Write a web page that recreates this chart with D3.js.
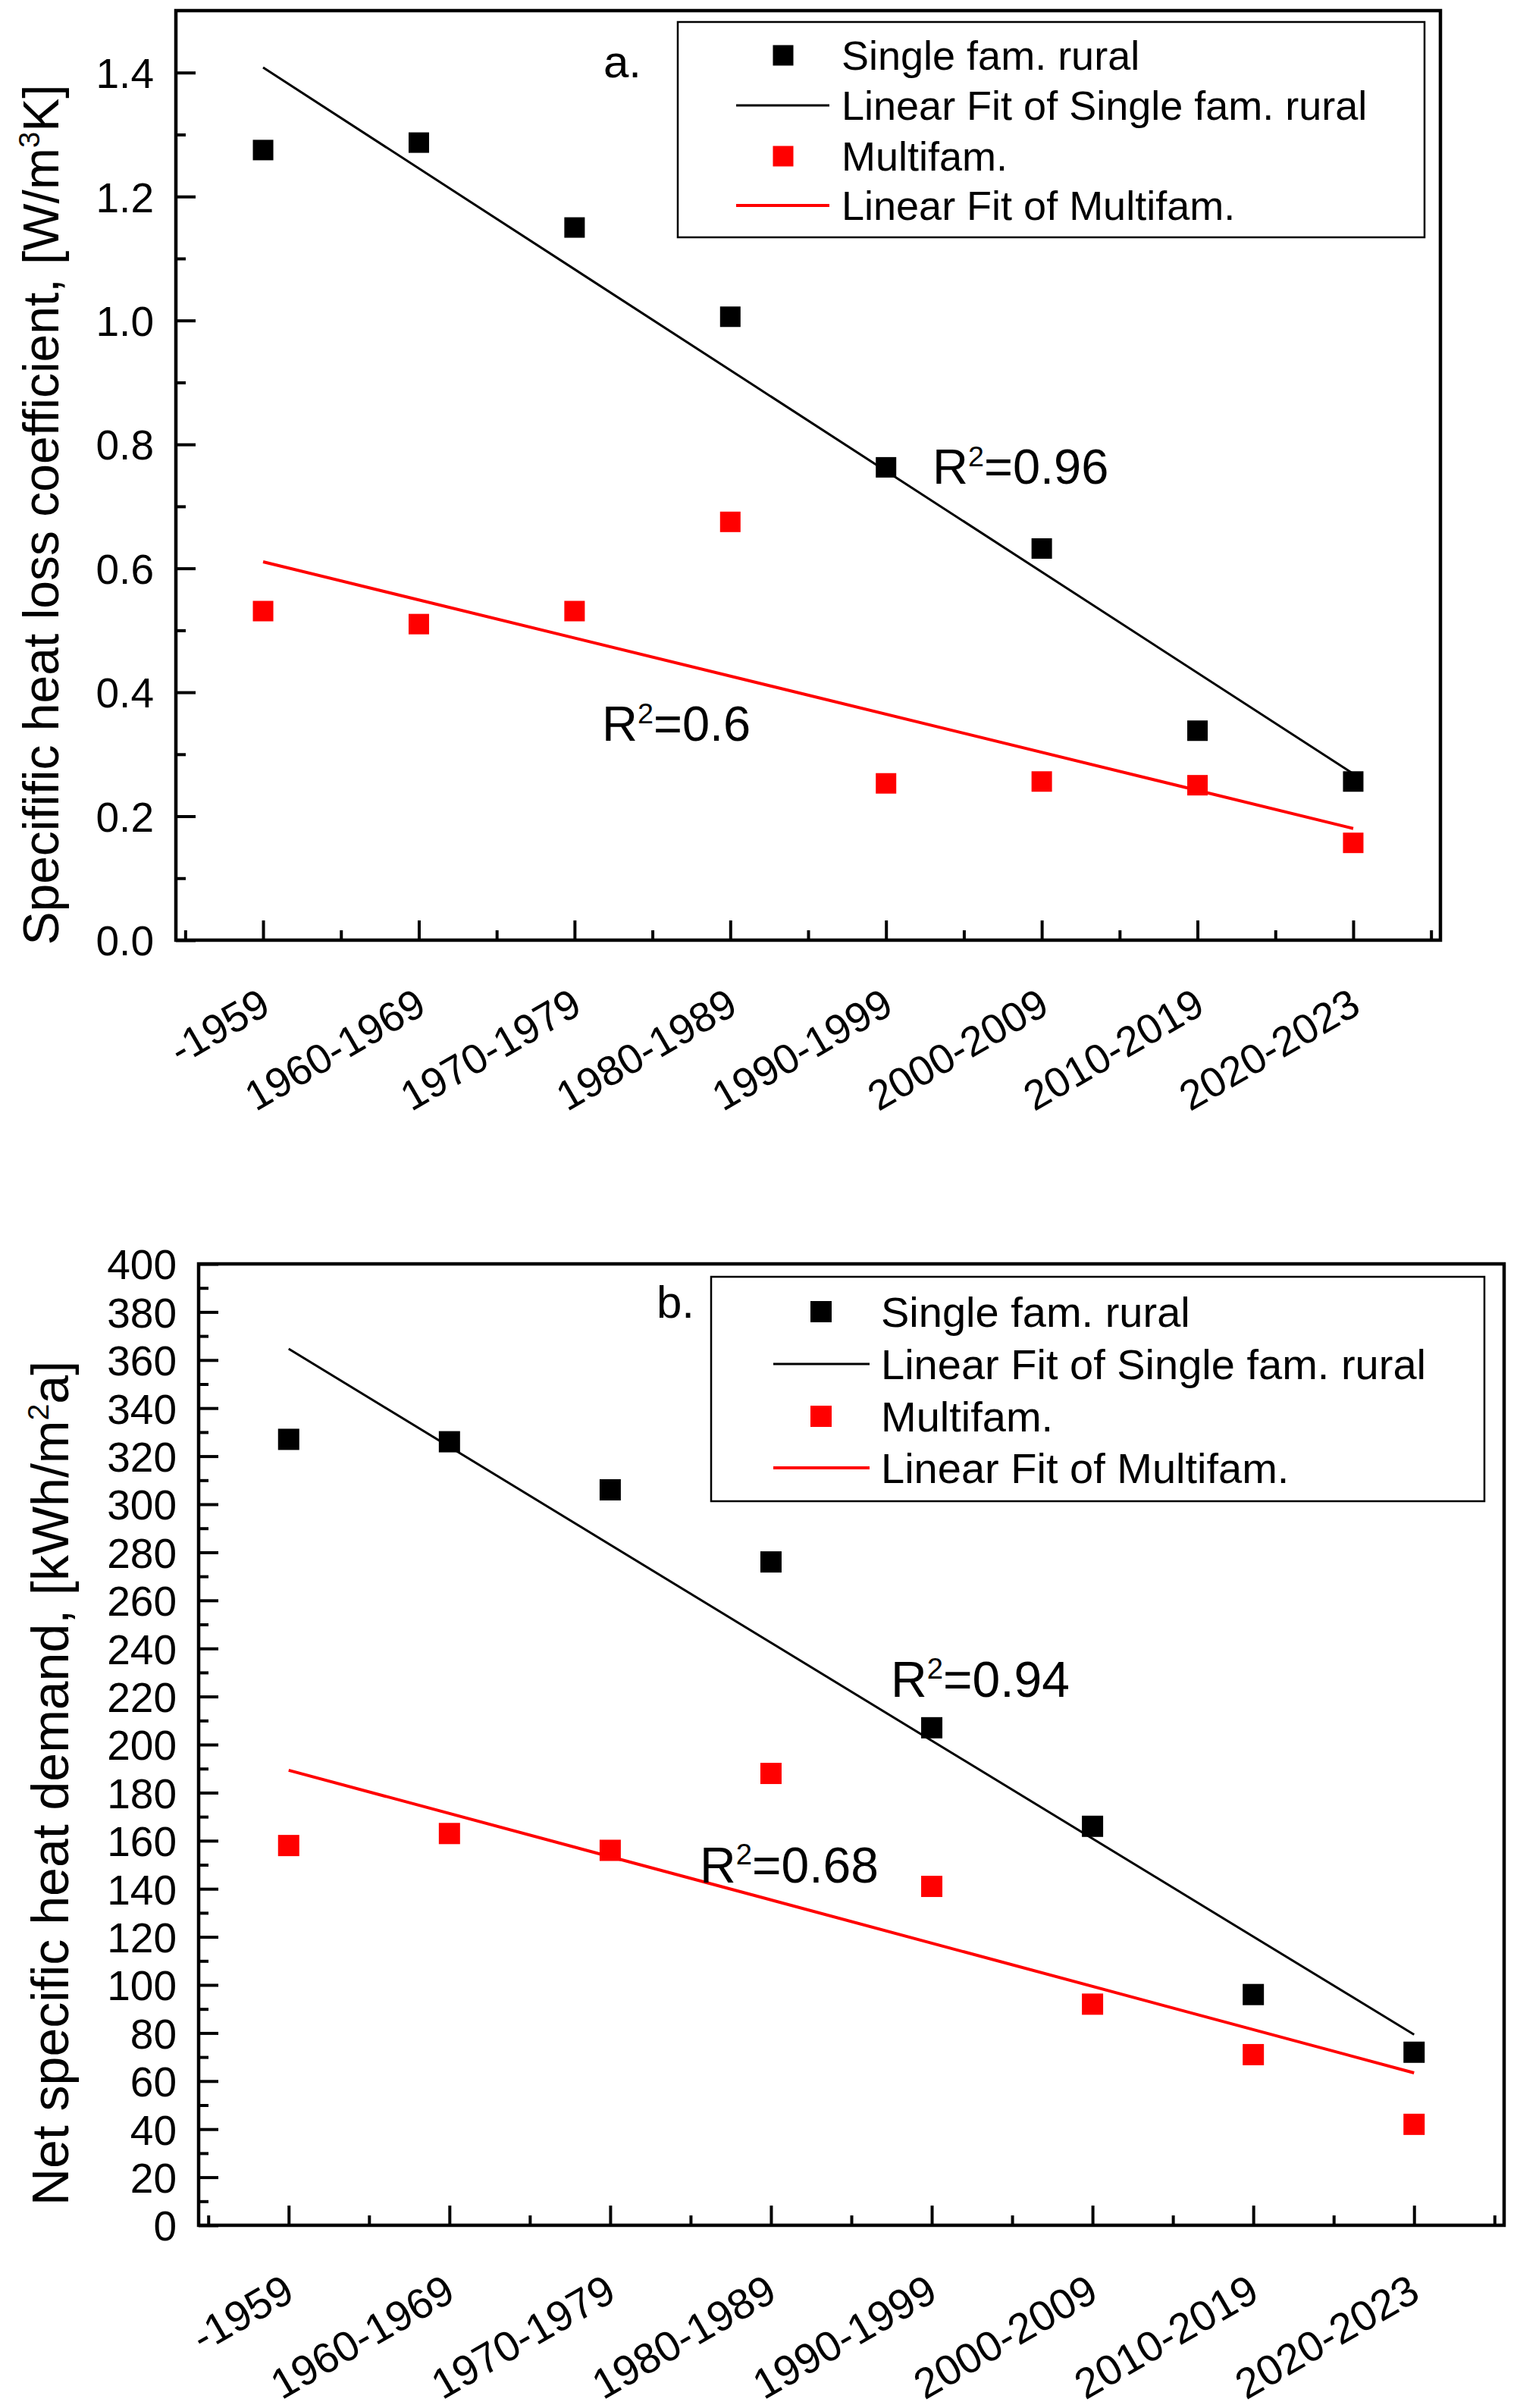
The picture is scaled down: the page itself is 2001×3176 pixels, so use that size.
<!DOCTYPE html>
<html>
<head>
<meta charset="utf-8">
<script src="https://cdn.jsdelivr.net/npm/d3@7"></script>
<style>
  html, body { margin: 0; padding: 0; background: #fff; }
  svg { display: block; font-family: "Liberation Sans", Arial, Helvetica, sans-serif; }
</style>
</head>
<body>
<svg id="chart" width="2001" height="3176"></svg>
<script>
// ---------------- DATA ----------------
const categories = ["-1959", "1960-1969", "1970-1979", "1980-1989", "1990-1999", "2000-2009", "2010-2019", "2020-2023"];

// panel a: specific heat loss coefficient [W/m3K]
const singleFamA = [1.275, 1.287, 1.150, 1.006, 0.763, 0.632, 0.338, 0.256];
const multiFamA  = [0.531, 0.510, 0.531, 0.675, 0.253, 0.256, 0.250, 0.157];
const yTicksA = [0.0, 0.2, 0.4, 0.6, 0.8, 1.0, 1.2, 1.4];

// panel b: net specific heat demand [kWh/m2a]
const singleFamB = [327, 326, 306, 276, 207, 166, 96, 72];
const multiFamB  = [158, 163, 156, 188, 141, 92, 71, 42];
const yTicksB = [0, 20, 40, 60, 80, 100, 120, 140, 160, 180, 200, 220, 240, 260, 280, 300, 320, 340, 360, 380, 400];

const legendLabels = ["Single fam. rural", "Linear Fit of Single fam. rural", "Multifam.", "Linear Fit of Multifam."];
const r2LabelsA = ["0.96", "0.6"];
const r2LabelsB = ["0.94", "0.68"];

// ---------------- HELPERS ----------------
function linFit(ys) {
  const n = ys.length, xs = d3.range(n);
  const mx = d3.mean(xs), my = d3.mean(ys);
  let sxy = 0, sxx = 0;
  xs.forEach((x, i) => { sxy += (x - mx) * (ys[i] - my); sxx += (x - mx) * (x - mx); });
  const b = sxy / sxx, a = my - b * mx;
  return [[0, a], [n - 1, a + b * (n - 1)]];
}

const svg = d3.select("#chart");
const FONT = "'Liberation Sans', Arial, sans-serif";

function drawPanel(cfg) {
  const g = svg.append("g");
  const x = d3.scaleLinear().domain([-0.56, 7.56]).range([cfg.left, cfg.right]);
  const y = d3.scaleLinear().domain(cfg.yDomain).range([cfg.bottom, cfg.top]);

  // y minor ticks
  g.append("g").attr("transform", `translate(${cfg.left},0)`)
    .call(d3.axisLeft(y).tickValues(cfg.yMinor).tickSize(-13).tickSizeOuter(0).tickFormat(""))
    .call(s => s.select(".domain").remove())
    .call(s => s.selectAll("line").attr("stroke", "#000").attr("stroke-width", 4));
  // y major ticks
  g.append("g").attr("transform", `translate(${cfg.left},0)`)
    .call(d3.axisLeft(y).tickValues(cfg.yTicks).tickSize(-26).tickSizeOuter(0).tickPadding(29).tickFormat(cfg.fmt))
    .call(s => s.select(".domain").remove())
    .call(s => s.selectAll("line").attr("stroke", "#000").attr("stroke-width", 4))
    .call(s => s.selectAll("text").attr("font-family", FONT).attr("font-size", cfg.tickFont).attr("fill", "#000").attr("dy", "0.36em"));

  // x minor ticks
  g.append("g").attr("transform", `translate(0,${cfg.bottom})`)
    .call(d3.axisBottom(x).tickValues(d3.range(-0.5, 8, 1)).tickSize(-13).tickSizeOuter(0).tickFormat(""))
    .call(s => s.select(".domain").remove())
    .call(s => s.selectAll("line").attr("stroke", "#000").attr("stroke-width", 4));
  // x major ticks with rotated labels
  g.append("g").attr("transform", `translate(0,${cfg.bottom})`)
    .call(d3.axisBottom(x).tickValues(d3.range(categories.length)).tickSize(-26).tickSizeOuter(0).tickFormat(i => categories[i]))
    .call(s => s.select(".domain").remove())
    .call(s => s.selectAll("line").attr("stroke", "#000").attr("stroke-width", 4))
    .call(s => s.selectAll("text")
      .attr("font-family", FONT).attr("font-size", cfg.xTickFont).attr("fill", "#000")
      .attr("x", null).attr("y", null).attr("dy", null)
      .attr("text-anchor", "end")
      .attr("transform", `translate(${cfg.xLabDx},${cfg.xLabDy}) rotate(-30)`));

  // frame
  g.append("rect")
    .attr("x", cfg.left).attr("y", cfg.top)
    .attr("width", cfg.right - cfg.left).attr("height", cfg.bottom - cfg.top)
    .attr("fill", "none").attr("stroke", "#000").attr("stroke-width", 4.5);

  // fit lines
  const line = d3.line().x(d => x(d[0])).y(d => y(d[1]));
  g.append("path").datum(linFit(cfg.black)).attr("d", line)
    .attr("fill", "none").attr("stroke", "#000").attr("stroke-width", 3);
  g.append("path").datum(linFit(cfg.red)).attr("d", line)
    .attr("fill", "none").attr("stroke", "#ff0000").attr("stroke-width", 4);

  // markers
  const ms = cfg.marker;
  g.append("g").selectAll("rect").data(cfg.black).join("rect")
    .attr("x", (d, i) => x(i) - ms / 2).attr("y", d => y(d) - ms / 2)
    .attr("width", ms).attr("height", ms).attr("fill", "#000");
  g.append("g").selectAll("rect").data(cfg.red).join("rect")
    .attr("x", (d, i) => x(i) - ms / 2).attr("y", d => y(d) - ms / 2)
    .attr("width", ms).attr("height", ms).attr("fill", "#ff0000");

  // legend
  const L = cfg.legend;
  g.append("rect").attr("x", L.x0).attr("y", L.y0).attr("width", L.x1 - L.x0).attr("height", L.y1 - L.y0)
    .attr("fill", "#fff").attr("stroke", "#000").attr("stroke-width", 2.5);
  const kinds = ["sq", "ln", "sq", "ln"], cols = ["#000", "#000", "#ff0000", "#ff0000"];
  legendLabels.forEach((lab, i) => {
    const cy = L.rows[i];
    if (kinds[i] === "sq") {
      g.append("rect").attr("x", L.mx - ms / 2).attr("y", cy - ms / 2).attr("width", ms).attr("height", ms).attr("fill", cols[i]);
    } else {
      g.append("line").attr("x1", L.lx0).attr("x2", L.lx1).attr("y1", cy).attr("y2", cy)
        .attr("stroke", cols[i]).attr("stroke-width", i === 1 ? 3 : 4);
    }
    g.append("text").attr("x", L.tx).attr("y", cy).attr("dy", "0.36em")
      .attr("font-family", FONT).attr("font-size", L.font).attr("fill", "#000").text(lab);
  });

  // panel letter
  g.append("text").attr("x", cfg.letter.x).attr("y", cfg.letter.y)
    .attr("font-family", FONT).attr("font-size", cfg.letter.font).attr("fill", "#000").text(cfg.letter.t);

  // R2 labels
  cfg.r2.forEach(r => {
    const t = g.append("text").attr("x", r.x).attr("y", r.y)
      .attr("font-family", FONT).attr("font-size", cfg.r2Font).attr("fill", "#000");
    t.append("tspan").text("R");
    t.append("tspan").attr("font-size", cfg.r2Font * 0.58).attr("dy", -cfg.r2Font * 0.36).text("2");
    t.append("tspan").attr("dy", cfg.r2Font * 0.36).text("=" + r.v);
  });

  // y title
  const T = cfg.title;
  const tt = g.append("text").attr("transform", `translate(${T.x},${T.y}) rotate(-90)`)
    .attr("text-anchor", "middle").attr("font-family", FONT).attr("font-size", T.font).attr("fill", "#000");
  tt.append("tspan").text(T.a);
  tt.append("tspan").attr("font-size", T.font * 0.58).attr("dy", -T.font * 0.38).text(T.sup);
  tt.append("tspan").attr("dy", T.font * 0.38).text(T.b);
}

drawPanel({
  left: 232, right: 1900, top: 14, bottom: 1240,
  yDomain: [0, 1.5], yTicks: yTicksA, yMinor: d3.range(0.1, 1.45, 0.2),
  fmt: d3.format(".1f"), tickFont: 55, xTickFont: 55, xLabDx: 12, xLabDy: 95,
  black: singleFamA, red: multiFamA, marker: 27,
  legend: { x0: 894, x1: 1879, y0: 29, y1: 313, rows: [73, 139, 206, 271], mx: 1033, lx0: 971, lx1: 1094, tx: 1110, font: 54 },
  letter: { x: 796, y: 102, font: 60, t: "a." },
  r2Font: 65,
  r2: [{ x: 1230, y: 638, v: r2LabelsA[0] }, { x: 794, y: 977, v: r2LabelsA[1] }],
  title: { x: 77, y: 679, font: 66, a: "Specifific heat loss coefficient, [W/m", sup: "3", b: "K]" }
});

drawPanel({
  left: 262, right: 1984, top: 1667, bottom: 2935,
  yDomain: [0, 400], yTicks: yTicksB, yMinor: d3.range(10, 400, 20),
  fmt: d3.format("d"), tickFont: 55, xTickFont: 56, xLabDx: 10, xLabDy: 97,
  black: singleFamB, red: multiFamB, marker: 28,
  legend: { x0: 938, x1: 1958, y0: 1684, y1: 1980, rows: [1730, 1799, 1868, 1936], mx: 1083, lx0: 1020, lx1: 1147, tx: 1162, font: 56 },
  letter: { x: 866, y: 1738, font: 60, t: "b." },
  r2Font: 66,
  r2: [{ x: 1175, y: 2238, v: r2LabelsB[0] }, { x: 923, y: 2483, v: r2LabelsB[1] }],
  title: { x: 90, y: 2352, font: 68, a: "Net specific heat demand, [kWh/m", sup: "2", b: "a]" }
});
</script>
</body>
</html>
